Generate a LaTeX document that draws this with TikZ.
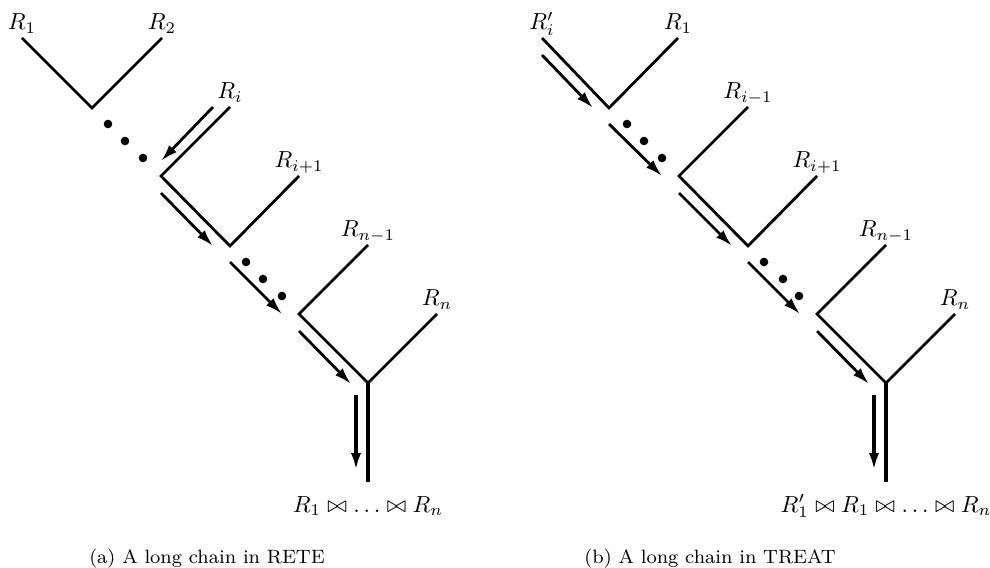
\documentclass[tikz,border=0pt]{standalone}
\usepackage{amsmath}
\usepackage{amssymb}
\usepackage{tikz}
\usetikzlibrary{arrows.meta,calc}

\begin{document}
\begin{tikzpicture}[
  x=0.43pt, y=-0.43pt,
  >={Latex[length=7.3pt,width=4.4pt]},
  rel/.style={line width=1.2pt},
  flow/.style={->, line width=1.2pt},
  downflow/.style={flow, line width=1.6pt},
  outp/.style={line width=1.5pt},
  lbl/.style={anchor=base, inner sep=0pt},
  dot/.style={circle, fill, inner sep=0pt, minimum size=3.7pt},
  captxt/.style={anchor=base, inner sep=0pt, font=\fontsize{8.3}{10}\selectfont},
]
\useasboundingbox (0,0) rectangle (990,568);

% (a) RETE
\coordinate (a-r1) at (22,38);
\coordinate (a-r2) at (162,38);
\coordinate (a-v1) at (92,108);
\coordinate (a-ri) at (230,107);
\coordinate (a-v2) at (161,176);
\coordinate (a-ri1) at (299,176);
\coordinate (a-v3) at (230,246);
\coordinate (a-rn1) at (368,245);
\coordinate (a-v4) at (299,314);
\coordinate (a-rn) at (437,314);
\coordinate (a-v5) at (368,383);
\coordinate (a-out) at (368,482);

\node[lbl] (a-l1) at ([yshift=3.5pt]a-r1) {$R_1$};
\node[lbl] (a-l2) at ([yshift=3.5pt]a-r2) {$R_2$};
\node[lbl] (a-li) at ([yshift=3.5pt]a-ri) {$R_i$};
\node[lbl] (a-li1) at ([yshift=3.5pt]a-ri1) {$R_{i+1}$};
\node[lbl] (a-ln1) at ([yshift=3.5pt]a-rn1) {$R_{n-1}$};
\node[lbl] (a-ln) at ([yshift=3.5pt]a-rn) {$R_n$};

\draw[rel] (a-r1) -- (a-v1) -- (a-r2);
\draw[rel] (a-ri) -- (a-v2) -- (a-v3) -- (a-ri1);
\draw[rel] (a-rn1) -- (a-v4) -- (a-v5) -- (a-rn);
\draw[outp] (a-v5) -- (a-out);

\node[dot] (a-d1) at (108,124) {};
\node[dot] (a-d2) at (125,141) {};
\node[dot] (a-d3) at (143,158) {};
\node[dot] (a-d4) at (246,262) {};
\node[dot] (a-d5) at (263,279) {};
\node[dot] (a-d6) at (282,296) {};

\draw[flow] ($(a-ri)+(-17,0)$) -- ($(a-v2)+(0,-15)$);
\draw[flow] ($(a-v2)+(0,17)$) -- ($(a-v3)+(-17,0)$);
\draw[flow] ($(a-v3)+(0,16)$) -- ($(a-v4)+(-17,0)$);
\draw[flow] ($(a-v4)+(0,17)$) -- ($(a-v5)+(-17,1)$);
\draw[downflow] ($(a-v5)+(-12,12)$) -- ($(a-out)+(-12,-12)$);

\node[lbl] (a-res) at ([yshift=-12.9pt]a-out) {$R_1 \bowtie \ldots \bowtie R_n$};
\node[captxt] (a-cap) at (207,563) {(a) A long chain in RETE};

% (b) TREAT
\coordinate (b-ri) at (542,38);
\coordinate (b-r1) at (678,38);
\coordinate (b-v1) at (609,108);
\coordinate (b-rim) at (748,107);
\coordinate (b-v2) at (679,176);
\coordinate (b-ri1) at (817,176);
\coordinate (b-v3) at (748,246);
\coordinate (b-rn1) at (886,245);
\coordinate (b-v4) at (817,314);
\coordinate (b-rn) at (955,314);
\coordinate (b-v5) at (886,383);
\coordinate (b-out) at (886,482);

\node[lbl] (b-li) at ([yshift=3.5pt]b-ri) {$R_i'$};
\node[lbl] (b-l1) at ([yshift=3.5pt]b-r1) {$R_1$};
\node[lbl] (b-lim) at ([yshift=3.5pt]b-rim) {$R_{i-1}$};
\node[lbl] (b-li1) at ([yshift=3.5pt]b-ri1) {$R_{i+1}$};
\node[lbl] (b-ln1) at ([yshift=3.5pt]b-rn1) {$R_{n-1}$};
\node[lbl] (b-ln) at ([yshift=3.5pt]b-rn) {$R_n$};

\draw[rel] (b-ri) -- (b-v1) -- (b-r1);
\draw[rel] (b-rim) -- (b-v2) -- (b-v3) -- (b-ri1);
\draw[rel] (b-rn1) -- (b-v4) -- (b-v5) -- (b-rn);
\draw[outp] (b-v5) -- (b-out);

\node[dot] (b-d1) at (627,124) {};
\node[dot] (b-d2) at (644,141) {};
\node[dot] (b-d3) at (662,158) {};
\node[dot] (b-d4) at (764,262) {};
\node[dot] (b-d5) at (783,279) {};
\node[dot] (b-d6) at (799,296) {};

\draw[flow] ($(b-ri)+(0,17)$) -- ($(b-v1)+(-16,0)$);
\draw[flow] ($(b-v1)+(0,16)$) -- ($(b-v2)+(-17,0)$);
\draw[flow] ($(b-v2)+(0,17)$) -- ($(b-v3)+(-16,0)$);
\draw[flow] ($(b-v3)+(0,16)$) -- ($(b-v4)+(-17,0)$);
\draw[flow] ($(b-v4)+(0,17)$) -- ($(b-v5)+(-17,1)$);
\draw[downflow] ($(b-v5)+(-12,12)$) -- ($(b-out)+(-12,-12)$);

\node[lbl] (b-res) at ([yshift=-12.9pt]b-out) {$R_1' \bowtie R_1 \bowtie \ldots \bowtie R_n$};
\node[captxt] (b-cap) at (710,563) {(b) A long chain in TREAT};
\end{tikzpicture}
\end{document}
